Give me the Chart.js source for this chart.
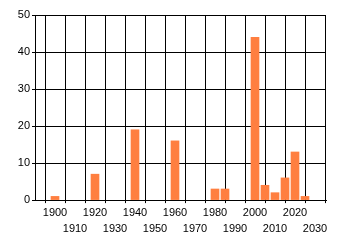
<!DOCTYPE html>
<html>
<head>
<meta charset="utf-8">
<script src="https://cdn.jsdelivr.net/npm/chart.js@4"></script>
<style>
  html, body { margin: 0; padding: 0; background: #fff; }
</style>
</head>
<body>
<canvas id="myChart" width="340" height="245"></canvas>
<script>
// 資料
const years = [1900, 1920, 1940, 1960, 1980, 1985, 2000, 2005, 2010, 2015, 2020, 2025];
const counts = [1, 7, 19, 16, 3, 3, 44, 4, 2, 6, 13, 1];
const xTicks = [1890, 1900, 1910, 1920, 1930, 1940, 1950, 1960, 1970, 1980, 1990, 2000, 2010, 2020, 2030];
const yTicks = [0, 10, 20, 30, 40, 50];

Chart.defaults.font.family = "'Liberation Sans', Arial, sans-serif";
Chart.defaults.font.size = 11;
Chart.defaults.color = '#000';

var ctx = document.getElementById('myChart').getContext('2d');

var myChart = new Chart(ctx, {
    type: 'bar',
    data: {
        datasets: [{
            data: years.map((y, i) => ({ x: y, y: counts[i] })),
            backgroundColor: '#FF7F40',
            borderWidth: 0,
            barThickness: 8
        }]
    },
    options: {
        responsive: false,
        animation: false,
        layout: {
            padding: { top: 15, right: 14, left: 0, bottom: 6 }
        },
        plugins: {
            legend: { display: false },
            tooltip: { enabled: false }
        },
        scales: {
            x: {
                type: 'linear',
                min: 1890,
                max: 2035.5,
                offset: false,
                afterBuildTicks: (scale) => {
                    scale.ticks = xTicks.map(v => ({ value: v }));
                },
                grid: {
                    color: '#000',
                    lineWidth: 1,
                    tickLength: 3
                },
                border: { display: true, color: '#000' },
                ticks: {
                    autoSkip: false,
                    maxRotation: 0,
                    padding: 2,
                    font: { lineHeight: 1.45 },
                    callback: function (value) {
                        if (value === 1890) return '';
                        // 交錯兩行
                        return ((value - 1900) / 10) % 2 === 0 ? [String(value), ''] : ['', String(value)];
                    }
                }
            },
            y: {
                min: 0,
                max: 50,
                afterBuildTicks: (scale) => {
                    scale.ticks = yTicks.map(v => ({ value: v }));
                },
                afterFit: (scale) => { scale.width = 35; },
                grid: {
                    color: '#000',
                    lineWidth: 1,
                    tickLength: 3
                },
                border: { display: true, color: '#000' },
                ticks: {
                    padding: 2
                }
            }
        }
    }
});
</script>
</body>
</html>
